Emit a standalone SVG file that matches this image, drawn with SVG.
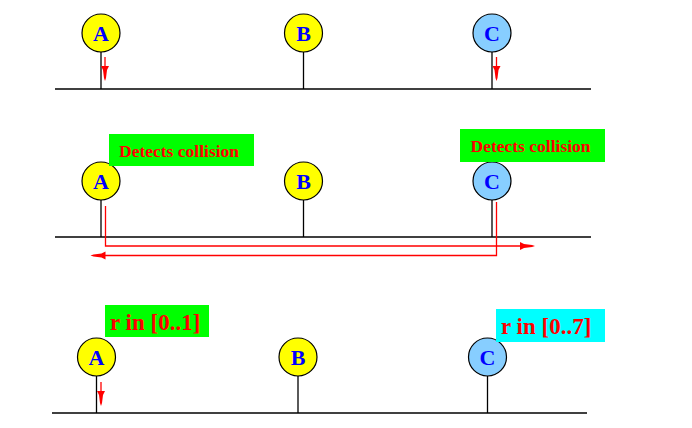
<svg xmlns="http://www.w3.org/2000/svg" width="692" height="428" viewBox="0 0 692 428">
<style>
.bus{stroke:#000;stroke-width:1.3;fill:none}
.stem{stroke:#000;stroke-width:1.3;fill:none}
.sig{stroke:#ff0000;stroke-width:1.3;fill:none}
.head{fill:#ff0000;stroke:none}
.y{fill:#ffff00;stroke:#000;stroke-width:1.2}
.c{fill:#87ceff;stroke:#000;stroke-width:1.2}
.nl{font-family:"Liberation Serif",serif;font-weight:bold;font-size:22px;fill:#0000ff;text-anchor:middle}
.dc{font-family:"Liberation Serif",serif;font-weight:bold;font-size:17.5px;fill:#ff0000}
.rl{font-family:"Liberation Serif",serif;font-weight:bold;font-size:23px;fill:#ff0000}
</style>
<defs>
<polygon id="hd" points="-4,0 4,0 2,4 1,12 0,15 -1,12 -2,4"/>
</defs>
<rect width="692" height="428" fill="#fff"/>
<g id="connectors">
  <line class="bus" x1="55" y1="89" x2="591" y2="89"/>
  <line class="stem" x1="101" y1="52" x2="101" y2="89"/>
  <line class="stem" x1="303.5" y1="52" x2="303.5" y2="89"/>
  <line class="stem" x1="492" y1="52" x2="492" y2="89"/>
  <line class="sig" x1="105" y1="57" x2="105" y2="70"/>
  <use href="#hd" class="head" transform="translate(105,66)"/>
  <line class="sig" x1="496.5" y1="57" x2="496.5" y2="70"/>
  <use href="#hd" class="head" transform="translate(496.5,66)"/>

  <line class="bus" x1="55" y1="237" x2="591" y2="237"/>
  <line class="stem" x1="101" y1="200" x2="101" y2="237"/>
  <line class="stem" x1="303.5" y1="200" x2="303.5" y2="237"/>
  <line class="stem" x1="492" y1="200" x2="492" y2="237"/>
  <polyline class="sig" points="105.5,206 105.5,246 522,246"/>
  <use href="#hd" class="head" transform="translate(520,246) rotate(-90)"/>
  <polyline class="sig" points="496.5,202 496.5,255.5 104,255.5"/>
  <use href="#hd" class="head" transform="translate(105.5,255.5) rotate(90)"/>

  <line class="bus" x1="52" y1="413" x2="587" y2="413"/>
  <line class="stem" x1="96.5" y1="376" x2="96.5" y2="413"/>
  <line class="stem" x1="298" y1="376" x2="298" y2="413"/>
  <line class="stem" x1="487.5" y1="376" x2="487.5" y2="413"/>
  <line class="sig" x1="101" y1="382" x2="101" y2="393"/>
  <use href="#hd" class="head" transform="translate(101,391)"/>
</g>

<g id="r1-A"><circle class="y" cx="101" cy="33" r="19"/><text class="nl" x="101" y="40.5">A</text></g>
<g id="r1-B"><circle class="y" cx="303.5" cy="33" r="19"/><text class="nl" x="303.5" y="40.5">B</text></g>
<g id="r1-C"><circle class="c" cx="492" cy="33" r="19"/><text class="nl" x="492" y="40.5">C</text></g>

<g id="r2-A"><circle class="y" cx="101" cy="181" r="19"/><text class="nl" x="101" y="188.5">A</text></g>
<g id="r2-B"><circle class="y" cx="303.5" cy="181" r="19"/><text class="nl" x="303.5" y="188.5">B</text></g>
<g id="r2-C"><circle class="c" cx="492" cy="181" r="19"/><text class="nl" x="492" y="188.5">C</text></g>
<g id="r2-A-label"><rect x="109" y="134" width="145" height="32" fill="#00ff00"/><text class="dc" x="119" y="157">Detects collision</text></g>
<g id="r2-C-label"><rect x="460" y="129" width="145" height="33" fill="#00ff00"/><text class="dc" x="470.5" y="152">Detects collision</text></g>

<g id="r3-A"><circle class="y" cx="96.5" cy="357" r="19"/><text class="nl" x="96.5" y="364.5">A</text></g>
<g id="r3-B"><circle class="y" cx="298" cy="357" r="19"/><text class="nl" x="298" y="364.5">B</text></g>
<g id="r3-C"><circle class="c" cx="487.5" cy="357" r="19"/><text class="nl" x="487.5" y="364.5">C</text></g>
<g id="r3-A-label"><rect x="105" y="305" width="104" height="32" fill="#00ff00"/><text class="rl" x="110" y="329.5">r in [0..1]</text></g>
<g id="r3-C-label"><rect x="496" y="309" width="109" height="33" fill="#00ffff"/><text class="rl" x="501" y="333.5">r in [0..7]</text></g>
</svg>
